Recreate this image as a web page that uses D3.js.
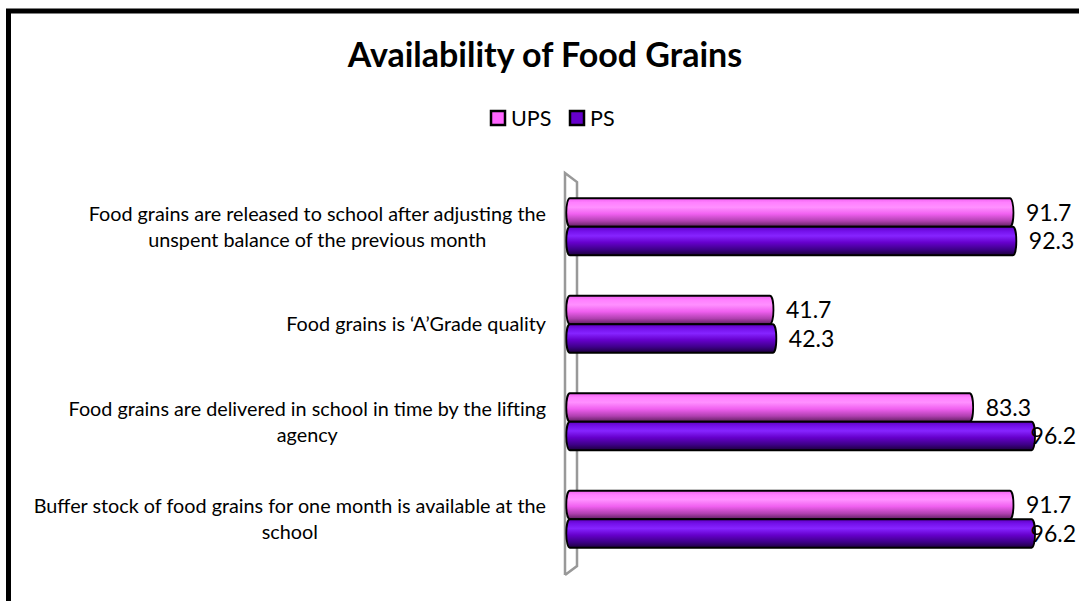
<!DOCTYPE html>
<html>
<head>
<meta charset="utf-8">
<script src="https://cdn.jsdelivr.net/npm/d3@7/dist/d3.min.js"></script>
<style>
  html, body { margin: 0; padding: 0; background: #fff; }
  svg { display: block; }
  text { font-family: Lato, "Open Sans", sans-serif; fill: #000; }
</style>
</head>
<body>
<svg id="chart" width="1079" height="601"></svg>
<script>
// Survey items (top to bottom) and the share of schools (%) for each level
const categories = [
  ["Food grains are released to school after adjusting the", "unspent balance of the previous month"],
  ["Food grains is \u2018A\u2019Grade quality"],
  ["Food grains are delivered in school in time by the lifting", "agency"],
  ["Buffer stock of food grains for one month is available at the", "school"]
];
const seriesNames = ["UPS", "PS"];
const upsValues = [91.7, 41.7, 83.3, 91.7];
const psValues  = [92.3, 42.3, 96.2, 96.2];

const W = 1079, H = 601;
const svg = d3.select("#chart");
const defs = svg.append("defs");

// Cylinder-like shading for each series
const gradStops = {
  UPS: [[0, "#f060f0"], [0.15, "#ff80ff"], [0.32, "#ff90ff"], [0.55, "#f060f0"], [0.8, "#b040b0"], [1, "#5e1e5e"]],
  PS:  [[0, "#5e00c0"], [0.15, "#7410ea"], [0.32, "#8624ff"], [0.55, "#6600cc"], [0.8, "#3e0088"], [1, "#1c003c"]]
};
const legendFill = { UPS: "#ff66ff", PS: "#6600cc" };
seriesNames.forEach(s => {
  const g = defs.append("linearGradient").attr("id", "grad-" + s)
    .attr("x1", 0).attr("y1", 0).attr("x2", 0).attr("y2", 1);
  gradStops[s].forEach(([o, c]) => g.append("stop").attr("offset", o).attr("stop-color", c));
});

// Outer frame
svg.append("rect")
  .attr("x", 8.5).attr("y", 11).attr("width", 1200).attr("height", 800)
  .attr("fill", "none").attr("stroke", "#000").attr("stroke-width", 5);

// Title
svg.append("text")
  .attr("x", 545).attr("y", 67)
  .attr("text-anchor", "middle")
  .style("font-weight", "bold").style("font-size", "34px")
  .text("Availability of Food Grains");

// Legend
const legend = svg.append("g");
const legendItems = [{ name: "UPS", x: 490 }, { name: "PS", x: 569 }];
legendItems.forEach(it => {
  legend.append("rect")
    .attr("x", it.x + 1).attr("y", 111).attr("width", 14).attr("height", 14)
    .attr("fill", legendFill[it.name]).attr("stroke", "#000").attr("stroke-width", 2.5);
  legend.append("text")
    .attr("x", it.x + 21).attr("y", 125.5)
    .style("font-size", "21.5px")
    .text(it.name);
});

// Scales
const x = d3.scaleLinear().domain([0, 100]).range([569.8, 1049.8]);
const y = d3.scaleBand().domain(d3.range(categories.length)).range([178, 568]).paddingInner(0.415).paddingOuter(0.2075);
const ySub = d3.scaleBand().domain(seriesNames).range([0, y.bandwidth()]);

// 3-D style vertical wall at the value axis origin
const wall = svg.append("g");
wall.append("path")
  .attr("d", d3.line()([[565, 575], [565, 173], [577, 182], [577, 566], [565, 575]]))
  .attr("fill", "#fff").attr("stroke", "#999").attr("stroke-width", 2.5)
  .attr("stroke-linejoin", "miter");

// Bars
const rows = categories.map((c, i) => ({ i, values: { UPS: upsValues[i], PS: psValues[i] } }));
function barPath(x0, x1, y0, h) {
  const rx = 3.5, ry = h / 2;
  return `M${x0},${y0} L${x1},${y0} A${rx},${ry} 0 0 1 ${x1},${y0 + h} L${x0},${y0 + h} A${rx},${ry} 0 0 1 ${x0},${y0} Z`;
}
const barsG = svg.append("g");
rows.forEach(r => {
  seriesNames.forEach(s => {
    const v = r.values[s];
    const y0 = y(r.i) + ySub(s);
    const h = ySub.bandwidth();
    barsG.append("path")
      .attr("d", barPath(x(0), x(v), y0, h))
      .attr("fill", `url(#grad-${s})`)
      .attr("stroke", "#000").attr("stroke-width", 1.8);
    // value label
    const t = svg.append("text")
      .attr("y", y0 + h / 2)
      .attr("dy", "0.36em")
      .style("font-size", "23px")
      .text(v.toFixed(1));
    const w = t.node().getComputedTextLength();
    let tx = x(v) + 16;
    if (tx + w > 1076) tx = 1076 - w;
    t.attr("x", tx);
  });
});

// Category labels: block right-aligned to the axis, lines centred within
const labelsG = svg.append("g");
const lineH = 26;
categories.forEach((lines, i) => {
  const g = labelsG.append("g");
  const cy = y(i) + y.bandwidth() / 2;
  const texts = lines.map((ln, k) => g.append("text")
    .attr("y", cy + (k - (lines.length - 1) / 2) * lineH)
    .attr("dy", "0.35em")
    .attr("text-anchor", "middle")
    .style("font-size", "19.8px")
    .text(ln));
  const maxW = d3.max(texts, t => t.node().getComputedTextLength());
  const cx = 546 - maxW / 2;
  texts.forEach(t => t.attr("x", cx));
});
</script>
</body>
</html>
